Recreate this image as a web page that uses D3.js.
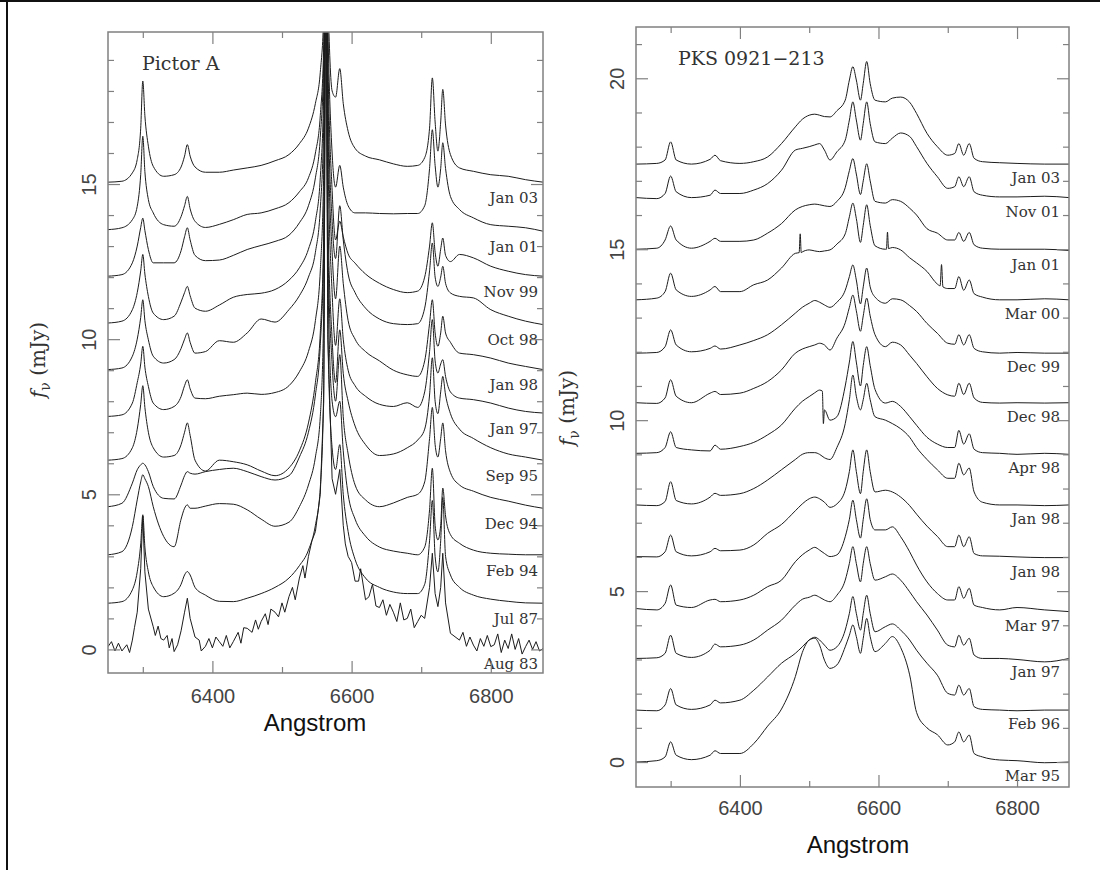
<!DOCTYPE html>
<html>
<head>
<meta charset="utf-8">
<script src="https://cdn.jsdelivr.net/npm/d3@7"></script>
<style>
  body { margin: 0; background: #fff; }
  svg { display: block; }
</style>
</head>
<body>
<script>
// wavelength grids (Angstrom), one per panel
let picGrid = [
  6250, 6270, 6285, 6292, 6297, 6300, 6303, 6308,
  6315, 6330, 6345, 6355, 6360, 6364, 6368, 6375,
  6390, 6410, 6430, 6450, 6470, 6490, 6510, 6525,
  6538, 6548, 6555, 6560, 6563, 6566, 6572, 6577,
  6583, 6588, 6595, 6605, 6620, 6640, 6660, 6680,
  6695, 6705, 6712, 6716, 6720, 6724, 6728, 6731,
  6735, 6742, 6755, 6775, 6800, 6825, 6850, 6875
];

let pksGrid = [
  6250, 6280, 6292, 6300, 6308, 6330, 6357, 6364,
  6372, 6400, 6420, 6440, 6460, 6480, 6490, 6500,
  6508, 6515, 6522, 6530, 6540, 6552, 6558, 6563,
  6568, 6574, 6578, 6583, 6588, 6595, 6610, 6620,
  6632, 6645, 6655, 6670, 6685, 6700, 6710, 6716,
  6723, 6731, 6738, 6750, 6775, 6800, 6840, 6875
];

let picDates = ["Jan 03", "Jan 01", "Nov 99", "Oct 98", "Jan 98", "Jan 97",
  "Sep 95", "Dec 94", "Feb 94", "Jul 87", "Aug 83"];
let pksDates = ["Jan 03", "Nov 01", "Jan 01", "Mar 00", "Dec 99", "Dec 98",
  "Apr 98", "Jan 98", "Jan 98", "Mar 97", "Jan 97", "Feb 96", "Mar 95"];

// Pictor A, flux in mJy as plotted (offsets included), top to bottom
let picJan03 = [
  15.06, 15.09, 15.36, 15.79, 16.8, 18.32, 17.2, 16.22,
  15.57, 15.25, 15.30, 15.55, 15.9, 16.27, 15.9, 15.55,
  15.38, 15.38, 15.45, 15.52, 15.6, 15.75, 15.95, 16.3,
  16.8, 17.6, 18.6, 20.5, 24, 21, 18.0, 17.8,
  18.72, 17.6, 16.7, 16.15, 15.9, 15.78, 15.65, 15.57,
  15.6, 15.85, 16.8, 18.42, 17.0, 16.06, 17.0, 18.05,
  16.9, 15.95, 15.52, 15.41, 15.30, 15.25, 15.14, 15.06
];
let picJan01 = [
  13.53, 13.59, 13.85, 14.28, 15.3, 16.54, 15.4, 14.5,
  14.07, 13.69, 13.64, 13.95, 14.3, 14.6, 14.2, 13.8,
  13.6, 13.7, 13.85, 14.02, 14.07, 14.2, 14.4, 14.75,
  15.2, 16.0, 17.2, 19.5, 24, 20, 16.0, 14.9,
  15.6, 14.9, 14.3, 14.07, 14.07, 14.05, 14.04, 14.05,
  14.05, 14.3, 15.5, 16.75, 15.6, 14.9, 15.5, 16.33,
  15.5, 14.6, 14.18, 13.91, 13.69, 13.64, 13.59, 13.48
];
let picNov99 = [
  12.03, 12.08, 12.46, 13.0, 13.6, 13.9, 13.5, 12.89,
  12.46, 12.46, 12.46, 12.85, 13.3, 13.59, 13.2, 12.7,
  12.53, 12.55, 12.7, 12.89, 13.02, 13.15, 13.35, 13.75,
  14.3, 15.2, 16.5, 19.0, 24, 19, 14.8, 13.2,
  13.8, 13.3, 12.75, 12.45, 12.1, 11.8, 11.6, 11.5,
  11.55, 12.0, 13.0, 13.75, 12.8, 12.35, 12.9, 13.26,
  12.7, 12.5, 12.73, 12.62, 12.35, 12.19, 12.08, 12.03
];
let picOct98 = [
  10.52, 10.58, 10.95, 11.5, 12.2, 12.73, 12.1, 11.38,
  10.84, 10.63, 10.74, 11.2, 11.5, 11.7, 11.4, 11.0,
  10.9, 11.1, 11.35, 11.44, 11.48, 11.6, 11.9, 12.3,
  12.9, 13.8, 15.2, 18, 24, 18, 13.8, 12.6,
  14.3, 13.2, 12.1, 11.5, 11.0, 10.65, 10.5, 10.47,
  10.5, 11.0, 12.2, 13.1, 12.0, 11.7, 12.0, 12.35,
  11.8, 11.49, 11.38, 11.33, 10.95, 10.74, 10.58, 10.47
];
let picJan98 = [
  9.02, 9.07, 9.45, 10.0, 10.7, 11.27, 10.6, 9.98,
  9.45, 9.23, 9.34, 9.7, 10.0, 10.2, 9.9, 9.55,
  9.6, 9.95, 9.9, 10.2, 10.65, 10.55, 10.95, 11.4,
  12.0, 12.8, 14.2, 17, 24, 17, 12.8, 11.3,
  13.0, 11.8, 10.6, 10.0, 9.6, 9.3, 9.0, 8.85,
  8.8, 9.3, 10.5, 11.27, 10.2, 9.77, 10.2, 10.74,
  10.2, 9.9, 9.55, 9.5, 9.39, 9.23, 9.12, 9.02
];
let picJan97 = [
  7.51, 7.56, 7.94, 8.6, 9.2, 9.77, 9.1, 8.48,
  7.94, 7.73, 7.83, 8.15, 8.5, 8.69, 8.4, 8.1,
  8.08, 8.16, 8.21, 8.26, 8.22, 8.28, 8.5, 8.95,
  9.6, 10.6, 12.2, 15.5, 24, 16, 11.5, 9.8,
  11.3, 10.0, 9.0, 8.5, 8.16, 7.9, 7.83, 7.95,
  7.8, 8.3, 9.6, 10.63, 9.3, 8.91, 9.2, 9.34,
  8.8, 8.3, 8.1, 8.05, 7.94, 7.78, 7.67, 7.62
];
let picSep95 = [
  6.1, 6.15, 6.5, 7.1, 7.9, 8.5, 7.8, 7.0,
  6.5, 6.2, 6.25, 6.6, 7.0, 7.3, 6.9, 6.1,
  5.75, 6.1, 6.05, 5.95, 5.75, 5.6, 5.85, 6.4,
  7.3, 8.6, 10.2, 13.5, 24, 14, 10.0, 8.6,
  10.3, 8.9, 8.0, 7.2, 6.6, 6.25, 6.3, 6.5,
  6.75, 7.1, 8.2, 9.4, 8.0, 7.6, 8.3, 8.8,
  8.2, 7.6, 7.1, 6.8, 6.5, 6.3, 6.2, 6.1
];
let picDec94 = [
  4.6, 4.71, 5.36, 5.79, 5.95, 6.0, 5.95, 5.73,
  5.25, 4.87, 4.85, 5.3, 5.6, 5.73, 5.68, 5.65,
  5.73, 5.8, 5.84, 5.73, 5.57, 5.46, 5.6, 6.2,
  7.0, 8.2, 9.8, 13, 24, 13, 9.2, 8.0,
  9.5, 7.5, 6.3, 5.3, 4.82, 4.6, 4.72, 4.9,
  5.0, 5.4, 6.8, 7.8, 6.6, 6.2, 6.8, 7.3,
  6.4, 5.7, 5.3, 5.1, 4.9, 4.78, 4.65, 4.55
];
let picFeb94 = [
  3.05, 3.15, 3.96, 4.82, 5.4, 5.63, 5.5, 5.25,
  4.6, 3.64, 3.31, 4.2, 4.55, 4.66, 4.55, 4.55,
  4.62, 4.7, 4.68, 4.5, 4.2, 3.97, 4.1, 4.6,
  5.3, 6.2, 7.5, 11, 24, 12, 8.0, 7.5,
  8.0, 6.4, 5.0, 4.2, 3.65, 3.3, 3.17, 3.1,
  3.05, 3.3, 4.5, 5.84, 4.0, 3.53, 4.0, 5.2,
  4.3, 3.7, 3.42, 3.2, 3.1, 3.07, 3.05, 3.05
];
let picJul87 = [
  1.49, 1.54, 1.92, 2.5, 3.4, 4.34, 3.3, 2.5,
  2.02, 1.7, 1.81, 2.1, 2.4, 2.51, 2.4, 2.0,
  1.75, 1.55, 1.54, 1.65, 1.8, 2.0, 2.3, 2.7,
  3.2, 4.0, 5.2, 8.5, 24, 10, 6.5, 5.8,
  6.6, 5.0, 3.8, 2.9, 2.3, 2.0, 1.85, 1.8,
  1.8, 2.1, 3.5, 4.8, 3.0, 2.5, 3.5, 4.9,
  3.0, 2.4, 2.0, 1.75, 1.62, 1.55, 1.5, 1.49
];
let picAug83 = [
  0.09, -0.05, 0.3, 1.2, 2.6, 4.3, 2.5, 1.3,
  0.73, 0.3, -0.07, 0.6, 1.2, 1.65, 1.0, 0.4,
  0.1, 0.25, 0.25, 0.68, 0.9, 1.2, 1.7, 2.3,
  3.0, 3.8, 5.0, 8.0, 24, 10, 5.5, 5.0,
  5.8, 4.0, 3.0, 2.2, 1.6, 1.35, 1.2, 1.0,
  0.9, 1.0, 2.0, 3.1, 1.8, 1.38, 2.0, 3.1,
  1.5, 0.52, 0.3, 0.14, 0.09, 0.03, 0.09, 0.03
];
let picAug83Noise = [
  [6255, 0.25], [6260, -0.05], [6265, 0.2], [6277, 0.15], [6281, -0.1], [6288, 0.7],
  [6318, 0.45], [6322, 0.75], [6326, 0.35], [6335, 0.45], [6338, 0.05], [6342, 0.35],
  [6350, 0.15], [6381, 0.3], [6384, -0.05], [6395, 0.35], [6400, 0.05], [6405, 0.4],
  [6415, 0.1], [6420, 0.45], [6425, 0.05], [6437, 0.55], [6441, 0.2], [6445, 0.7],
  [6457, 0.55], [6462, 0.95], [6466, 0.65], [6476, 1.15], [6480, 0.8], [6484, 1.3],
  [6495, 1.05], [6500, 1.5], [6504, 1.2], [6515, 2.0], [6519, 1.6], [6530, 2.7],
  [6533, 2.3], [6543, 3.5], [6591, 3.4], [6600, 2.8], [6610, 2.2], [6613, 2.6],
  [6625, 1.7], [6630, 2.1], [6635, 1.4], [6645, 1.6], [6650, 1.1], [6655, 1.45],
  [6665, 0.9], [6670, 1.5], [6675, 0.95], [6685, 1.3], [6690, 0.7], [6700, 1.1],
  [6760, 0.55], [6765, 0.1], [6770, 0.4], [6780, -0.05], [6785, 0.35], [6790, 0.1],
  [6795, 0.45], [6805, 0.15], [6810, 0.5], [6815, -0.1], [6820, 0.3], [6830, 0.5],
  [6835, 0.0], [6840, 0.35], [6845, -0.15], [6855, 0.3], [6860, 0.0], [6865, 0.25],
  [6870, -0.05]
];

// PKS 0921-213, flux in mJy as plotted, top to bottom
let pksJan03 = [
  17.49, 17.51, 17.61, 18.14, 17.61, 17.49, 17.63, 17.75,
  17.59, 17.51, 17.56, 17.70, 18.09, 18.58, 18.80, 18.92,
  18.95, 18.92, 18.88, 18.87, 19.05, 19.36, 19.95, 20.34,
  19.95, 19.36, 19.85, 20.49, 19.85, 19.36, 19.31, 19.42,
  19.45, 19.30, 18.97, 18.39, 18.00, 17.75, 17.80, 18.09,
  17.75, 18.09, 17.66, 17.56, 17.53, 17.51, 17.49, 17.49
];
let pksNov01 = [
  16.51, 16.48, 16.63, 17.14, 16.68, 16.51, 16.58, 16.73,
  16.63, 16.63, 16.73, 16.92, 17.31, 17.90, 17.95, 18.00,
  18.05, 18.09, 17.90, 17.61, 17.85, 18.19, 18.78, 19.31,
  18.78, 18.19, 18.68, 19.31, 18.68, 18.14, 18.09, 18.25,
  18.40, 18.30, 18.00, 17.51, 17.12, 16.78, 16.83, 17.12,
  16.83, 17.12, 16.68, 16.58, 16.53, 16.53, 16.55, 16.51
];
let pksJan01 = [
  15.00, 15.03, 15.27, 15.68, 15.27, 15.03, 15.23, 15.32,
  15.23, 15.23, 15.27, 15.47, 15.75, 16.15, 16.25, 16.30,
  16.32, 16.30, 16.27, 16.25, 16.40, 16.80, 17.30, 17.65,
  17.20, 16.60, 17.00, 17.50, 17.00, 16.40, 16.35, 16.45,
  16.40, 16.20, 16.00, 15.60, 15.47, 15.27, 15.27, 15.49,
  15.23, 15.49, 15.13, 15.03, 15.00, 15.00, 15.00, 14.96
];
let pksMar00 = [
  13.52, 13.57, 13.76, 14.30, 13.81, 13.62, 13.81, 13.91,
  13.76, 13.76, 13.96, 14.10, 14.45, 14.88, 14.92, 14.98,
  14.95, 14.93, 14.95, 14.98, 15.15, 15.45, 15.95, 16.35,
  15.90, 15.20, 15.70, 16.30, 15.70, 15.10, 15.00, 15.05,
  14.98, 14.75, 14.60, 14.35, 13.98, 13.85, 13.85, 14.20,
  13.80, 14.10, 13.70, 13.60, 13.52, 13.52, 13.55, 13.52
];
let pksMar00Spikes = [
  [6485.5, 14.9], [6487, 15.45], [6488.5, 14.9],
  [6611.5, 15.0], [6613, 15.5], [6614.5, 15.02],
  [6689, 13.93], [6691, 14.55], [6693, 13.9]
];
let pksDec99 = [
  11.96, 11.98, 12.15, 12.64, 12.20, 12.00, 12.10, 12.17,
  12.08, 12.20, 12.33, 12.50, 12.79, 13.13, 13.30, 13.42,
  13.50, 13.45, 13.37, 13.30, 13.45, 13.80, 14.20, 14.54,
  14.10, 13.40, 13.90, 14.45, 13.90, 13.60, 13.42, 13.55,
  13.52, 13.35, 13.18, 12.83, 12.54, 12.25, 12.22, 12.50,
  12.20, 12.50, 12.10, 12.00, 11.96, 11.98, 11.96, 11.96
];
let pksDec98 = [
  10.51, 10.49, 10.65, 11.18, 10.70, 10.51, 10.79, 10.84,
  10.75, 10.79, 10.93, 11.13, 11.47, 11.96, 12.08, 12.15,
  12.20, 12.25, 12.20, 12.05, 12.40, 12.85, 13.30, 13.66,
  13.20, 12.60, 13.05, 13.57, 13.05, 12.50, 12.15, 12.28,
  12.20, 11.90, 11.66, 11.27, 10.93, 10.74, 10.70, 11.08,
  10.75, 11.08, 10.65, 10.52, 10.50, 10.51, 10.50, 10.51
];
let pksApr98 = [
  9.03, 9.05, 9.20, 9.66, 9.20, 9.13, 9.10, 9.27,
  9.15, 9.23, 9.35, 9.57, 9.86, 10.35, 10.55, 10.69,
  10.80, 10.88, 10.30, 10.00, 10.10, 11.00, 11.70, 12.30,
  11.70, 11.00, 11.60, 12.15, 11.60, 10.90, 10.50, 10.55,
  10.40, 10.10, 9.85, 9.50, 9.30, 9.20, 9.20, 9.70,
  9.30, 9.60, 9.15, 9.05, 9.03, 9.00, 9.03, 9.00
];
let pksApr98Notch = [[6519, 10.85], [6520.5, 9.9]];
let pksJan98a = [
  7.52, 7.50, 7.62, 8.20, 7.65, 7.55, 7.75, 7.86,
  7.80, 7.85, 8.00, 8.25, 8.55, 8.85, 9.00, 9.05,
  9.05, 9.00, 8.90, 8.85, 9.20, 9.90, 10.60, 11.32,
  10.70, 10.30, 10.60, 11.08, 10.60, 10.10, 10.00, 9.90,
  9.75, 9.50, 9.20, 8.85, 8.55, 8.30, 8.30, 8.74,
  8.40, 8.60, 7.90, 7.60, 7.52, 7.52, 7.50, 7.52
];
let pksJan98b = [
  6.01, 6.00, 6.15, 6.64, 6.15, 6.03, 6.15, 6.25,
  6.18, 6.20, 6.35, 6.69, 6.95, 7.35, 7.55, 7.70,
  7.75, 7.70, 7.60, 7.45, 7.55, 7.95, 8.50, 9.13,
  8.50, 7.85, 8.50, 9.13, 8.50, 7.90, 7.95, 7.90,
  7.75, 7.50, 7.25, 6.90, 6.60, 6.30, 6.30, 6.64,
  6.30, 6.59, 6.10, 6.03, 6.02, 6.00, 5.98, 5.98
];
let pksMar97 = [
  4.49, 4.45, 4.64, 5.18, 4.59, 4.52, 4.74, 4.76,
  4.69, 4.74, 4.88, 5.13, 5.32, 5.86, 6.06, 6.20,
  6.28, 6.20, 6.10, 6.01, 6.06, 6.59, 7.10, 7.66,
  7.10, 6.55, 7.10, 7.70, 7.10, 6.79, 6.79, 6.88,
  6.59, 6.15, 5.76, 5.27, 4.93, 4.74, 4.74, 5.13,
  4.79, 5.08, 4.59, 4.52, 4.45, 4.52, 4.45, 4.40
];
let pksJan97 = [
  3.03, 3.05, 3.18, 3.71, 3.18, 3.06, 3.27, 3.45,
  3.37, 3.42, 3.57, 3.86, 4.15, 4.59, 4.76, 4.82,
  4.88, 4.82, 4.74, 4.69, 4.88, 5.32, 5.81, 6.30,
  5.81, 5.27, 5.81, 6.30, 5.81, 5.32, 5.42, 5.50,
  5.32, 4.98, 4.69, 4.30, 3.86, 3.42, 3.37, 3.71,
  3.42, 3.62, 3.13, 3.03, 3.03, 3.00, 2.93, 3.03
];
let pksFeb96 = [
  1.52, 1.50, 1.67, 2.15, 1.67, 1.54, 1.67, 1.81,
  1.73, 1.81, 2.10, 2.49, 2.89, 3.18, 3.37, 3.57,
  3.65, 3.57, 3.42, 3.27, 3.37, 3.86, 4.35, 4.84,
  4.35, 3.86, 4.35, 4.88, 4.35, 3.81, 3.96, 4.04,
  3.86, 3.57, 3.27, 2.89, 2.54, 2.01, 1.96, 2.25,
  1.96, 2.15, 1.62, 1.54, 1.52, 1.50, 1.52, 1.52
];
let pksMar95 = [
  0.00, 0.04, 0.15, 0.59, 0.20, 0.07, 0.20, 0.33,
  0.25, 0.25, 0.54, 1.05, 1.55, 2.50, 3.20, 3.57,
  3.62, 3.42, 2.98, 2.74, 2.84, 3.37, 3.71, 4.01,
  3.67, 3.18, 3.62, 4.20, 3.67, 3.23, 3.47, 3.67,
  3.35, 2.55, 1.45, 1.00, 0.80, 0.50, 0.59, 0.88,
  0.59, 0.79, 0.25, 0.15, 0.06, 0.04, -0.02, 0.00
];

let xMinorTicks = [6300, 6500, 6700];
let xMajorTicks = [6400, 6600, 6800];
let yLabelTicks = [0, 5, 10, 15, 20];

let width = 1100;
let height = 870;

let panels = [
  {
    id: "pic", title: "Pictor A", grid: picGrid, dates: picDates,
    series: [picJan03, picJan01, picNov99, picOct98, picJan98, picJan97,
      picSep95, picDec94, picFeb94, picJul87, picAug83],
    extras: { 10: picAug83Noise },
    noisy: [10],
    left: 108, right: 543, top: 32, bottom: 673, yMin: -0.76, yMax: 19.9,
    titleX: 142, titleY: 70, labelPad: 5, labelDrop: 0.5,
    tickLabelY: 703, axisX: 315, axisY: 731, yTitleX: 45, yTitleY: 360
  },
  {
    id: "pks", title: "PKS 0921\u2212213", grid: pksGrid, dates: pksDates,
    series: [pksJan03, pksNov01, pksJan01, pksMar00, pksDec99, pksDec98,
      pksApr98, pksJan98a, pksJan98b, pksMar97, pksJan97, pksFeb96, pksMar95],
    extras: { 3: pksMar00Spikes, 6: pksApr98Notch },
    noisy: [],
    left: 636, right: 1069, top: 27, bottom: 787, yMin: -0.73, yMax: 21.5,
    titleX: 678, titleY: 65, labelPad: 9, labelDrop: 0.4,
    tickLabelY: 815, axisX: 858, axisY: 853, yTitleX: 574, yTitleY: 408
  }
];

let svg = d3
  .select("body")
  .append("svg")
  .attr("width", width)
  .attr("height", height);

// outer border of the figure
svg.append("line").attr("x1", 0).attr("x2", width).attr("y1", 1).attr("y2", 1)
  .attr("stroke", "#111").attr("stroke-width", 2);
svg.append("line").attr("x1", 7).attr("x2", 7).attr("y1", 0).attr("y2", height)
  .attr("stroke", "#111").attr("stroke-width", 2);

let frameColor = "#808080";

let styleAxis = g => {
  g.select(".domain").remove();
  g.selectAll("line").attr("stroke", frameColor).attr("stroke-width", 1.2);
};

let drawPanel = p => {
  let x = d3.scaleLinear().domain([6250, 6875]).range([p.left, p.right]);
  let y = d3.scaleLinear().domain([p.yMin, p.yMax]).range([p.bottom, p.top]);

  svg.append("clipPath")
    .attr("id", "clip-" + p.id)
    .append("rect")
    .attr("x", p.left)
    .attr("y", p.top)
    .attr("width", p.right - p.left)
    .attr("height", p.bottom - p.top);

  let smooth = d3.line()
    .x(d => x(d[0]))
    .y(d => y(d[1]))
    .curve(d3.curveMonotoneX);
  let jagged = d3.line()
    .x(d => x(d[0]))
    .y(d => y(d[1]));

  let spectra = svg.append("g").attr("clip-path", `url(#clip-${p.id})`);

  p.series.forEach((flux, i) => {
    let pts = p.grid.map((w, j) => [w, flux[j]]);
    if (p.extras[i]) pts = pts.concat(p.extras[i]);
    pts.sort((a, b) => a[0] - b[0]);
    let line = p.noisy.includes(i) ? jagged : smooth;
    spectra.append("path")
      .attr("d", line(pts))
      .attr("fill", "none")
      .attr("stroke", "#1c1c1c")
      .attr("stroke-width", 1)
      .attr("stroke-linejoin", "round");
  });

  // epoch labels, just under the red end of each spectrum
  svg.append("g")
    .selectAll("text")
    .data(p.series)
    .enter()
    .append("text")
    .attr("x", p.right - p.labelPad)
    .attr("y", d => y(d[d.length - 1] - p.labelDrop))
    .attr("dy", "0.35em")
    .attr("text-anchor", "end")
    .attr("font-family", "DejaVu Serif")
    .attr("font-size", 15)
    .attr("fill", "#333")
    .text((d, i) => p.dates[i]);

  // frame
  svg.append("rect")
    .attr("x", p.left)
    .attr("y", p.top)
    .attr("width", p.right - p.left)
    .attr("height", p.bottom - p.top)
    .attr("fill", "none")
    .attr("stroke", frameColor)
    .attr("stroke-width", 1.5);

  let yMinor = d3.range(0, Math.floor(p.yMax) + 1).filter(v => v % 5 !== 0);
  let yMajor = yLabelTicks.filter(v => v <= p.yMax);

  svg.append("g").attr("transform", `translate(${p.left},0)`)
    .call(d3.axisLeft(y).tickValues(yMinor).tickSize(-6).tickFormat(""))
    .call(styleAxis);
  svg.append("g").attr("transform", `translate(${p.right},0)`)
    .call(d3.axisRight(y).tickValues(yMinor).tickSize(-6).tickFormat(""))
    .call(styleAxis);
  svg.append("g").attr("transform", `translate(${p.right},0)`)
    .call(d3.axisRight(y).tickValues(yMajor).tickSize(-12).tickFormat(""))
    .call(styleAxis);

  let yAxis = svg.append("g").attr("transform", `translate(${p.left},0)`)
    .call(d3.axisLeft(y).tickValues(yMajor).tickSize(-12).tickFormat(d3.format("d")))
    .call(styleAxis);
  yAxis.selectAll("text")
    .attr("x", null)
    .attr("dy", null)
    .attr("transform", "translate(-19,0) rotate(-90)")
    .attr("text-anchor", "middle")
    .attr("dominant-baseline", "central")
    .attr("font-family", "Liberation Sans")
    .attr("font-size", 20)
    .attr("fill", "#444");

  svg.append("g").attr("transform", `translate(0,${p.bottom})`)
    .call(d3.axisBottom(x).tickValues(xMinorTicks).tickSize(-6).tickFormat(""))
    .call(styleAxis);
  svg.append("g").attr("transform", `translate(0,${p.top})`)
    .call(d3.axisTop(x).tickValues(xMinorTicks).tickSize(-6).tickFormat(""))
    .call(styleAxis);
  svg.append("g").attr("transform", `translate(0,${p.top})`)
    .call(d3.axisTop(x).tickValues(xMajorTicks).tickSize(-12).tickFormat(""))
    .call(styleAxis);

  let xAxis = svg.append("g").attr("transform", `translate(0,${p.bottom})`)
    .call(d3.axisBottom(x).tickValues(xMajorTicks).tickSize(-12).tickFormat(d3.format("d")))
    .call(styleAxis);
  xAxis.selectAll("text")
    .attr("y", p.tickLabelY - p.bottom)
    .attr("dy", null)
    .attr("font-family", "Liberation Sans")
    .attr("font-size", 20)
    .attr("fill", "#444");

  svg.append("text")
    .attr("x", p.titleX)
    .attr("y", p.titleY)
    .attr("font-family", "DejaVu Serif")
    .attr("font-size", 19)
    .attr("fill", "#333")
    .text(p.title);

  svg.append("text")
    .attr("x", p.axisX)
    .attr("y", p.axisY)
    .attr("text-anchor", "middle")
    .attr("font-family", "Liberation Sans")
    .attr("font-size", 24)
    .attr("fill", "#111")
    .text("Angstrom");

  let yTitle = svg.append("text")
    .attr("transform", `translate(${p.yTitleX},${p.yTitleY}) rotate(-90)`)
    .attr("text-anchor", "middle")
    .attr("font-family", "DejaVu Serif")
    .attr("font-size", 20)
    .attr("fill", "#333");
  yTitle.append("tspan").attr("font-style", "italic").text("f");
  yTitle.append("tspan").attr("font-size", 14).attr("dy", 5).text("\u03bd");
  yTitle.append("tspan").attr("dy", -5).text(" (mJy)");
};

panels.forEach(drawPanel);
</script>
</body>
</html>
